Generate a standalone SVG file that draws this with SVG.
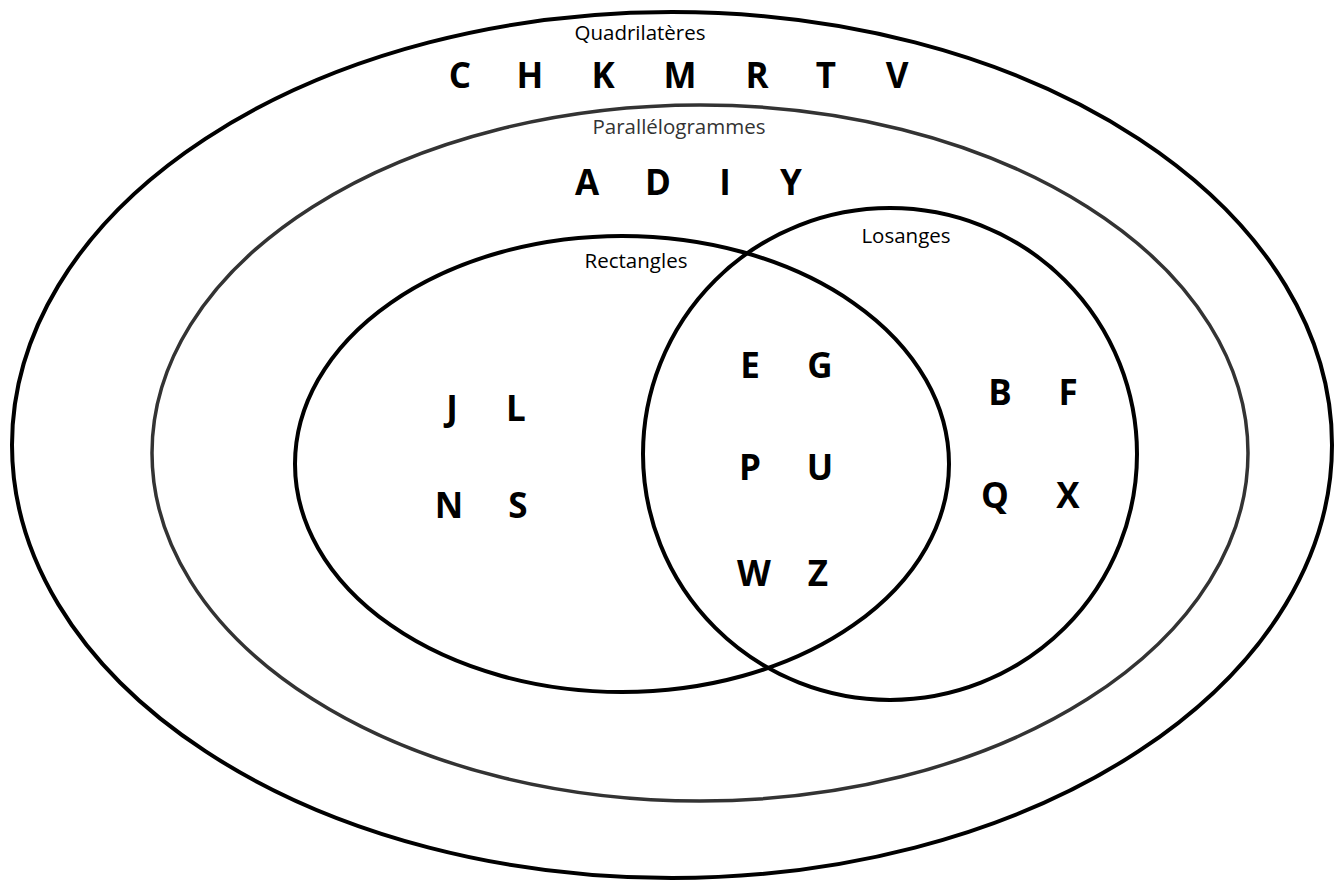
<svg xmlns="http://www.w3.org/2000/svg" width="1336" height="882" viewBox="0 0 1336 882">
<style>
.set{fill:none;stroke:#000;stroke-width:4}
.par{fill:none;stroke:#333;stroke-width:3.5}
.lab{font-family:"Open Sans","Liberation Sans",sans-serif;font-size:20.5px;text-anchor:middle;fill:#000}
.lab2{font-family:"Open Sans","Liberation Sans",sans-serif;font-size:20.5px;text-anchor:middle;fill:#333}
.L{font-family:"Open Sans","Liberation Sans",sans-serif;font-size:35px;font-weight:bold;text-anchor:middle;fill:#000}
</style>
<rect width="1336" height="882" fill="#fff"/>
<g id="quadrilateres">
<ellipse class="set" cx="672" cy="445" rx="660" ry="433"/>
<text class="lab" x="640" y="40">Quadrilatères</text>
<text class="L" x="460" y="88">C</text><text class="L" x="530" y="88">H</text><text class="L" x="603" y="88">K</text><text class="L" x="680" y="88">M</text><text class="L" x="757" y="88">R</text><text class="L" x="826" y="88">T</text><text class="L" x="897" y="88">V</text>
</g>
<g id="parallelogrammes">
<ellipse class="par" cx="700" cy="453" rx="548" ry="348"/>
<text class="lab2" x="679" y="134">Parallélogrammes</text>
<text class="L" x="587" y="195">A</text><text class="L" x="658" y="195">D</text><text class="L" x="725" y="195">I</text><text class="L" x="791" y="195">Y</text>
</g>
<g id="rectangles">
<ellipse class="set" cx="622" cy="464" rx="327" ry="228"/>
<text class="lab" x="636" y="268">Rectangles</text>
<text class="L" x="452" y="421">J</text><text class="L" x="516" y="421">L</text>
<text class="L" x="449" y="518">N</text><text class="L" x="518" y="518">S</text>
</g>
<g id="losanges">
<ellipse class="set" cx="890" cy="454" rx="247" ry="246"/>
<text class="lab" x="906" y="243">Losanges</text>
<text class="L" x="1000" y="405">B</text><text class="L" x="1068" y="405">F</text>
<text class="L" x="995" y="508">Q</text><text class="L" x="1068" y="508">X</text>
</g>
<g id="intersection">
<text class="L" x="750" y="378">E</text><text class="L" x="820" y="378">G</text>
<text class="L" x="750" y="480">P</text><text class="L" x="820" y="480">U</text>
<text class="L" x="754" y="586">W</text><text class="L" x="818" y="586">Z</text>
</g>
<g id="connectors"></g>
</svg>
